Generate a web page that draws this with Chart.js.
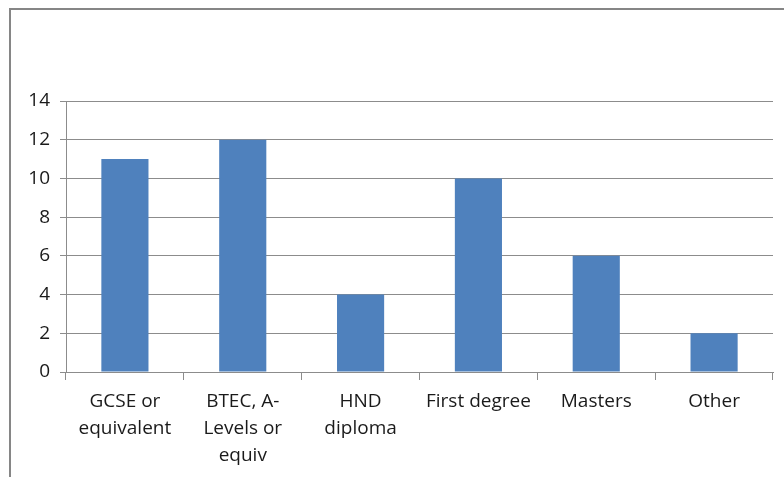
<!DOCTYPE html>
<html>
<head>
<meta charset="utf-8">
<script src="https://cdn.jsdelivr.net/npm/chart.js@4"></script>
<style>
  body { margin: 0; background: #fff; }
  #wrap { position: relative; width: 784px; height: 477px; overflow: hidden; }
  #frame { position: absolute; left: 9px; top: 8px; width: 820px; height: 520px; border: 2px solid #868686; }
  canvas { position: absolute; left: 0; top: 0; }
</style>
</head>
<body>
<div id="wrap">
  <div id="frame"></div>
  <canvas id="chart" width="784" height="477"></canvas>
</div>
<script>
const categories = [
    ['GCSE or', 'equivalent'],
    ['BTEC, A-', 'Levels or', 'equiv'],
    ['HND', 'diploma'],
    'First degree',
    'Masters',
    'Other'
];
const counts = [11, 12, 4, 10, 6, 2];
const yTicks = [0, 2, 4, 6, 8, 10, 12, 14];

const gridColor = '#8c8c8c';

new Chart(document.getElementById('chart'), {
    type: 'bar',
    data: {
        labels: categories,
        datasets: [{ data: counts, backgroundColor: '#4f81bd', categoryPercentage: 1, barPercentage: 0.4 }]
    },
    options: {
        responsive: false,
        animation: false,
        layout: { padding: { top: 101, right: 11, left: 0, bottom: 0 } },
        plugins: { legend: { display: false }, tooltip: { enabled: false } },
        scales: {
            x: {
                grid: { drawOnChartArea: false, color: gridColor, tickLength: 8 },
                border: { color: gridColor },
                ticks: { color: '#1a1a1a', font: { family: 'Open Sans', size: 19, lineHeight: 1.42 }, maxRotation: 0, autoSkip: false, padding: 8 },
                afterFit: s => { s.height = 105; }
            },
            y: {
                min: 0, max: 14,
                afterBuildTicks: s => { s.ticks = yTicks.map(v => ({ value: v })); },
                grid: { color: gridColor, tickLength: 6 },
                border: { color: gridColor },
                ticks: { color: '#1a1a1a', font: { family: 'Open Sans', size: 19 }, padding: 10 },
                afterFit: s => { s.width = 66; }
            }
        }
    }
});
</script>
</body>
</html>
